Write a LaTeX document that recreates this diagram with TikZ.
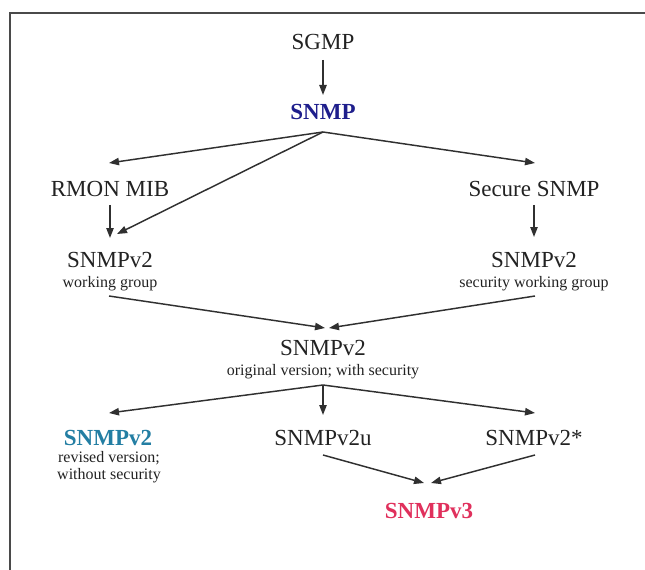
\documentclass[tikz,border=0pt]{standalone}
\usepackage{fontspec}
\setmainfont{Liberation Serif}
\usetikzlibrary{calc,arrows.meta}

\definecolor{ink}{HTML}{222222}
\definecolor{wire}{HTML}{303030}
\definecolor{frame}{HTML}{4A4A4A}
\definecolor{snmpblue}{HTML}{1E1E8C}
\definecolor{revteal}{HTML}{237EA3}
\definecolor{vthree}{HTML}{E0305C}

\tikzset{
  title/.style={anchor=base, inner sep=0pt, text=ink,
    font=\fontsize{17.25pt}{20pt}\selectfont},
  sub/.style={anchor=base, inner sep=0pt, text=ink,
    font=\fontsize{12pt}{13.5pt}\selectfont},
  flow/.style={draw=wire, line width=1.1pt,
    -{Triangle[length=7.5pt,width=5.5pt]}},
  border/.style={draw=frame, line width=1.9pt},
}

\begin{document}
\begin{tikzpicture}[x=0.75pt, y=-0.75pt]
  \useasboundingbox (0,0) rectangle (645,570);

  % open frame: top and left edges
  \coordinate (fl) at (10,570);
  \coordinate (fc) at (10,13);
  \coordinate (fr) at (645,13);
  \draw[border] (fl) -- (fc) -- (fr);

  % lineage nodes
  \node[title] (sgmp)   at (323,50)  {SGMP};
  \node[title, text=snmpblue, font=\fontsize{17.25pt}{20pt}\selectfont\bfseries]
                (snmp)  at (323,120) {SNMP};
  \node[title] (rmon)   at (110,196) {RMON MIB};
  \node[title] (secure) at (534,196) {Secure SNMP};

  \node[title] (wg)     at (110,267) {SNMPv2};
  \node[sub]   (wgsub)  at (110,287) {working group};
  \node[title] (swg)    at (534,267) {SNMPv2};
  \node[sub]   (swgsub) at (534,287) {security working group};

  \node[title] (orig)    at (323,355) {SNMPv2};
  \node[sub]   (origsub) at (323,375) {original version; with security};

  \node[title, text=revteal, font=\fontsize{17.25pt}{20pt}\selectfont\bfseries]
               (rev)     at (108,445) {SNMPv2};
  \node[sub]   (revsubA) at (109,462) {revised version;};
  \node[sub]   (revsubB) at (109,479) {without security};
  \node[title] (vtwou)   at (323,445) {SNMPv2u};
  \node[title] (vtwos)   at (534,445) {SNMPv2*};

  \node[title, text=vthree, font=\fontsize{17.25pt}{20pt}\selectfont\bfseries]
               (vthree)  at (429,518) {SNMPv3};

  % derivations
  \draw[flow] ($(sgmp.base)+(0,10)$) -- ($(snmp.base)+(0,-25)$);

  \draw[flow] ($(snmp.base)+(0,12)$) -- ($(rmon.base)+(-1,-33)$);
  \draw[flow] ($(snmp.base)+(0,12)$) -- ($(secure.base)+(1,-33)$);
  \draw[flow] ($(snmp.base)+(0,12)$) -- ($(wg.base)+(7,-33)$);

  \draw[flow] ($(rmon.base)+(0,9)$)   -- ($(wg.base)+(0,-29)$);
  \draw[flow] ($(secure.base)+(0,9)$) -- ($(swg.base)+(0,-30)$);

  \draw[flow] ($(wgsub.base)+(-1,9)$) -- ($(orig.base)+(2,-27)$);
  \draw[flow] ($(swgsub.base)+(1,9)$) -- ($(orig.base)+(6,-27)$);

  \draw[flow] ($(origsub.base)+(0,10)$) -- ($(rev.base)+(1,-32)$);
  \draw[flow] ($(origsub.base)+(0,10)$) -- ($(vtwou.base)+(0,-30)$);
  \draw[flow] ($(origsub.base)+(0,10)$) -- ($(vtwos.base)+(1,-32)$);

  \draw[flow] ($(vtwou.base)+(0,10)$) -- ($(vthree.base)+(-5,-35)$);
  \draw[flow] ($(vtwos.base)+(1,10)$) -- ($(vthree.base)+(2,-35)$);
\end{tikzpicture}
\end{document}
